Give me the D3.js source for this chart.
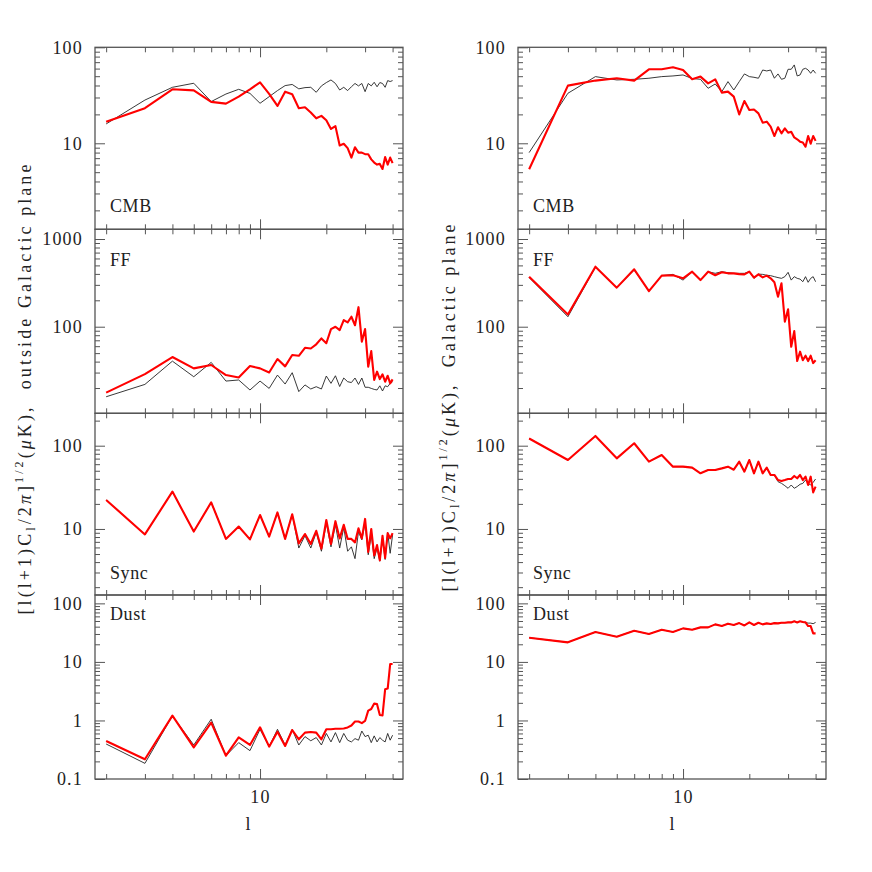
<!DOCTYPE html>
<html><head><meta charset="utf-8">
<script src="https://cdn.jsdelivr.net/npm/d3@7"></script>
<style>
html,body{margin:0;padding:0;background:#fff;}
svg{display:block;}
text{font-family:"Liberation Serif","DejaVu Serif",serif;fill:#222;}
</style></head><body>
<svg id="chart" width="872" height="872"></svg>
<script>
// multipole l
const ell = [2,3,4,5,6,7,8,9,10,11,12,13,14,15,16,17,18,19,20,21,22,23,24,25,26,27,28,29,30,31,32,33,34,35,36,37,38,39,40];

// outside Galactic plane (left column)
const cmbOutRed   = [16.8,23.2,36.5,35.6,27.0,25.9,30.6,36.5,43.2,32.7,24.5,34.5,32.4,23.2,23.7,20.9,18.2,19.3,17.4,14.1,15.1,9.5,9.9,8.9,7.1,9.1,8.0,8.0,7.7,7.7,6.8,6.3,6.0,6.1,5.4,7.2,6.0,7.1,6.2];
const cmbOutBlack = [15.9,28.2,38.3,42.2,27.2,32.6,36.5,33.1,26.1,30.6,35.4,39.9,41.0,36.9,38.0,38.3,34.0,39.6,42.9,45.7,42.0,35.9,38.3,35.4,38.8,42.0,39.6,42.0,34.5,42.0,39.6,43.2,38.8,42.9,42.0,38.3,45.0,44.0,45.0];
const ffOutRed    = [17.7,28.8,45.1,33.5,36.6,28.1,26.4,35.6,33.5,30.1,42.8,35.3,47.6,46.6,57.5,56.5,63,73.6,64.8,94,100,91.6,119,112,130,104,167,67.5,94,35,52.7,24.7,30.7,25.3,28.6,23.6,27.6,22.6,25.1];
const ffOutBlack  = [15.9,22,40.5,26.9,39.2,24,24.7,19,24,19.8,28.1,22.2,29.9,18.2,21.7,19.5,20.7,19.5,27.4,22.6,27.6,20.8,26,23.6,23.1,26,22,26,20.4,20.4,19.8,19.3,19,21.2,18.5,21.2,20.7,22.6,23.6];
const syncOutRed  = [22.3,8.6,28.1,9.3,20.9,7.6,10.7,7.5,14.7,8.1,15.8,7.6,15.0,6.7,8.7,6.6,9.5,5.8,12.8,6.6,12.4,7.7,11.2,7.6,7.6,6.9,10.2,7.7,13.2,5.3,10.0,4.8,6.4,4.2,8.3,4.5,8.9,7.7,8.9];
const syncOutBlack= [22.3,8.6,28.1,9.3,20.9,7.6,10.7,7.5,14.7,8.1,15.8,7.6,15.0,5.9,8.3,5.9,9.1,5.4,11.7,6.1,11.2,5.9,10.4,5.4,6.1,4.4,9.3,7.4,11.7,4.9,8.5,4.4,5.9,4.1,7.7,4.3,9.1,5.1,8.5];
const dustOutRed  = [0.446,0.217,1.21,0.348,0.92,0.25,0.515,0.381,0.764,0.357,0.644,0.366,0.687,0.476,0.62,0.634,0.62,0.476,0.706,0.706,0.72,0.72,0.73,0.76,0.82,0.96,0.96,0.9,0.98,1.47,1.57,1.94,1.9,1.24,1.22,3.4,3.5,9.2,9.2];
const dustOutBlack= [0.396,0.185,1.2,0.381,1.05,0.25,0.418,0.305,0.706,0.357,0.706,0.381,0.7,0.381,0.53,0.45,0.51,0.381,0.6,0.43,0.62,0.418,0.6,0.46,0.43,0.49,0.46,0.66,0.53,0.56,0.418,0.545,0.43,0.51,0.46,0.43,0.6,0.46,0.56];

// Galactic plane (right column)
const cmbGalRed   = [5.36,39.9,45,47.6,45,59,59,61.9,58,46.4,49.5,42.1,46.4,33.7,34.5,30.6,20,27.6,22.2,22.5,20.5,16.4,16.8,14.9,11.9,14.7,12.7,14.3,12.9,13.2,11.5,11.0,10.4,10.2,9.2,11.9,9.9,11.9,10.6];
const cmbGalBlack = [8.0,33.2,49.5,45.7,46.4,47.6,49.5,50.3,51.5,47.3,46.4,37.4,41.5,34.5,43.9,35.9,43.9,52.8,49.5,48.7,47.6,58,56.7,58,47.6,52.8,46.4,47.6,59,59,65.5,50.3,51.5,59,60.4,58,53.6,58,53.6];
const ffGalRed    = [372,138,483,279,451,255,382,386,356,424,340,424,386,417,406,406,398,395,424,362,395,365,382,356,321,220,312,114,158,59,89,40.6,51.9,41.5,46.7,40.6,46.7,38.5,41.5];
const ffGalBlack  = [363,130,475,279,443,255,382,395,340,424,340,424,406,424,413,406,406,406,424,356,398,395,386,382,372,363,356,372,417,340,372,356,349,326,372,321,356,372,326];
const syncGalRed  = [122,67.3,131,70.5,107,64.3,77.3,56,56,54.5,46.6,51,51,53.4,56,51.5,64.3,48.8,67.3,46.6,64.3,46.6,54.5,44.5,44.5,38.7,37.7,38.7,39.8,39.8,43.3,40.6,44.5,38.7,42.5,33.7,42.5,27.5,32.3];
const syncGalBlack= [122,67.3,131,70.5,107,64.3,77.3,56,56,54.5,46.6,51,51,53.4,56,51.5,64.3,48.8,67.3,46.6,64.3,46.6,54.5,44.5,44.5,37,35.3,33.1,30.8,33.7,30.8,32.3,34.4,35.3,38.7,35.3,33.7,36.3,39.8];
const dustGalRed  = [25.9,21.6,32.4,27,34.1,29.9,35.5,32.4,37.4,35.5,38.9,38.9,43.8,41.1,45,42.7,46,42,47.3,42.7,46.7,43.8,45.5,44.4,46,45.5,46.7,46.7,47.3,47.3,49.3,47.3,49.3,48,47.3,41,41,30.7,30.7];
const dustGalBlack= [25.9,21.6,32.4,27,34.1,29.9,35.5,32.4,37.4,35.5,38.9,38.9,43.8,41.1,45,42.7,46,42,47.3,42.7,46.7,43.8,45.5,44.4,46,45.5,46.7,46.7,47.3,47.3,49.3,47.3,49.3,48,47.3,46,46,45,47.3];

const panelNames = ["CMB","FF","Sync","Dust"];
const yDomains = [[1.27,100],[10.3,1290],[1.61,245],[0.1,139]];
const yLabelTicks = [[10,100],[100,1000],[10,100],[0.1,1,10,100]];
const xDomain = [1.78,44.6];
const xMinorTicks = [2,3,4,5,6,7,8,9,20,30,40];
const xMajorTicks = [10];
const xLabelTicks = [10];
const xAxisTitle = "l";
const columnTitles = ["outside Galactic plane","Galactic plane"];

const columns = [
  {red:[cmbOutRed,ffOutRed,syncOutRed,dustOutRed], black:[cmbOutBlack,ffOutBlack,syncOutBlack,dustOutBlack]},
  {red:[cmbGalRed,ffGalRed,syncGalRed,dustGalRed], black:[cmbGalBlack,ffGalBlack,syncGalBlack,dustGalBlack]}
];

// layout
const colX = [[95,403],[518,826]];
const rowY = [47.3,229.3,413.3,595,779];
const nameOffset = [[-17.6,'bottom'],[36.4,'top'],[-16,'bottom'],[25,'top']];
const yTitlePos = [{x:31,y:388,len:450},{x:455,y:406.5,len:367}];

const svg = d3.select("#chart");
const frameColor = "#555";
const MAJ = 10, MIN = 5;

columns.forEach((col, ci) => {
  const [x0,x1] = colX[ci];
  const x = d3.scaleLog().domain(xDomain).range([x0,x1]);
  for (let r=0; r<4; r++) {
    const y0 = rowY[r], y1 = rowY[r+1];
    const y = d3.scaleLog().domain(yDomains[r]).range([y1,y0]);
    const g = svg.append("g");
    const isMajor = v => Math.abs(Math.log10(v) - Math.round(Math.log10(v))) < 1e-6;
    const yAll = y.ticks();
    const yMaj = yAll.filter(isMajor), yMin = yAll.filter(v=>!isMajor(v));

    const tickStyle = sel => { sel.select(".domain").remove(); sel.selectAll("line").attr("stroke",frameColor).attr("stroke-width",1); sel.selectAll("text").remove(); };
    // left ticks (inward)
    g.append("g").attr("transform",`translate(${x0},0)`).call(d3.axisRight(y).tickValues(yMaj).tickSize(MAJ)).call(tickStyle);
    g.append("g").attr("transform",`translate(${x0},0)`).call(d3.axisRight(y).tickValues(yMin).tickSize(MIN)).call(tickStyle);
    // right ticks
    g.append("g").attr("transform",`translate(${x1},0)`).call(d3.axisLeft(y).tickValues(yMaj).tickSize(MAJ)).call(tickStyle);
    g.append("g").attr("transform",`translate(${x1},0)`).call(d3.axisLeft(y).tickValues(yMin).tickSize(MIN)).call(tickStyle);
    // top ticks
    g.append("g").attr("transform",`translate(0,${y0})`).call(d3.axisBottom(x).tickValues(xMajorTicks).tickSize(MAJ)).call(tickStyle);
    g.append("g").attr("transform",`translate(0,${y0})`).call(d3.axisBottom(x).tickValues(xMinorTicks).tickSize(MIN)).call(tickStyle);
    // bottom ticks
    g.append("g").attr("transform",`translate(0,${y1})`).call(d3.axisTop(x).tickValues(xMajorTicks).tickSize(MAJ)).call(tickStyle);
    g.append("g").attr("transform",`translate(0,${y1})`).call(d3.axisTop(x).tickValues(xMinorTicks).tickSize(MIN)).call(tickStyle);

    // y labels
    const yl = g.append("g").attr("transform",`translate(${x0},0)`)
      .call(d3.axisLeft(y).tickValues(yLabelTicks[r]).tickSize(0).tickPadding(12).tickFormat(d => String(d)));
    yl.select(".domain").remove();
    yl.selectAll("text").attr("font-family","Liberation Serif, DejaVu Serif, serif").attr("font-size",18)
      .attr("fill","#222").attr("letter-spacing",1.2);

    // frame
    g.append("rect").attr("x",x0).attr("y",y0).attr("width",x1-x0).attr("height",y1-y0)
      .attr("fill","none").attr("stroke",frameColor).attr("stroke-width",1.3);

    // lines
    const line = d3.line().x((d,i)=>x(ell[i])).y(d=>y(d));
    g.append("path").datum(col.black[r]).attr("d",line).attr("fill","none")
      .attr("stroke","#222").attr("stroke-width",0.9).attr("stroke-linejoin","round");
    g.append("path").datum(col.red[r]).attr("d",line).attr("fill","none")
      .attr("stroke","#ff0000").attr("stroke-width",2.1).attr("stroke-linejoin","round");

    // panel name
    const [off, ref] = nameOffset[r];
    g.append("text").attr("x",x0+15).attr("y",(ref==='bottom'?y1:y0)+off)
      .attr("font-size",18).attr("letter-spacing",0.6).text(panelNames[r]);

    // bottom axis labels
    if (r===3) {
      const xl = g.append("g").attr("transform",`translate(0,${y1})`)
        .call(d3.axisBottom(x).tickValues(xLabelTicks).tickSize(0).tickPadding(11).tickFormat(d=>String(d)));
      xl.select(".domain").remove();
      xl.selectAll("text").attr("font-family","Liberation Serif, DejaVu Serif, serif").attr("font-size",18)
        .attr("fill","#222").attr("letter-spacing",1.2);
      g.append("text").attr("x",(ci===0?248:672)).attr("y",830).attr("text-anchor","middle")
        .attr("font-size",18).text(xAxisTitle);
    }
  }

  // y axis title
  const p = yTitlePos[ci];
  const t = svg.append("text").attr("transform",`translate(${p.x},${p.y}) rotate(-90)`)
    .attr("text-anchor","middle").attr("font-size",18);
  const parts = [
    {s:"[l(l+1)C"},
    {s:"l", size:12, dy:4},
    {s:"/2", dy:-4},
    {s:"\u03c0", italic:true},
    {s:"]"},
    {s:"1/2", size:12, dy:-8},
    {s:"(", dy:8},
    {s:"\u03bc", italic:true},
    {s:"K),  " + columnTitles[ci]}
  ];
  parts.forEach(pt => {
    const ts = t.append("tspan").text(pt.s);
    if (pt.size) ts.attr("font-size",pt.size);
    if (pt.dy) ts.attr("dy",pt.dy);
    if (pt.italic) ts.attr("font-style","italic");
  });
  t.attr("xml:space","preserve").style("white-space","pre");
  const L = t.node().getComputedTextLength();
  const n = t.text().length;
  const ls = (p.len - L)/(n-1);
  t.attr("letter-spacing", ls);
});
</script>
</body></html>
